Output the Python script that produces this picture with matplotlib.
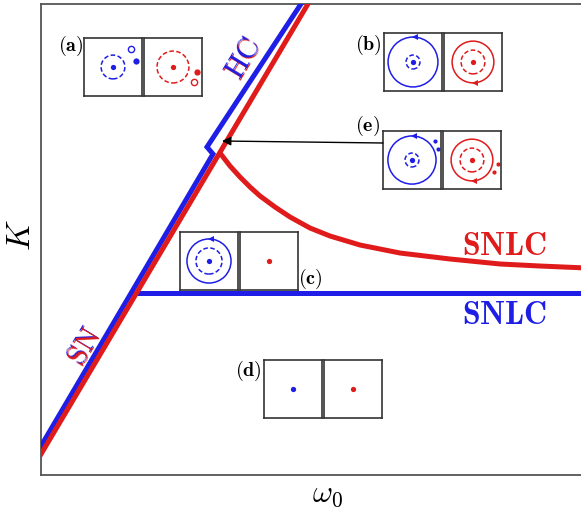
import matplotlib
matplotlib.use("Agg")
import matplotlib.pyplot as plt
from matplotlib.patches import Circle
from matplotlib.transforms import offset_copy

plt.rcParams["mathtext.fontset"] = "cm"
plt.rcParams["font.family"] = "serif"
plt.rcParams["font.serif"] = ["DejaVu Serif"]

BLUE = "#1e1ee6"
RED = "#e01b1b"

# ---- bifurcation branches (omega_0, K) ----
red_sn_hc_w = [-0.1, 5.0]
red_sn_hc_K = [0.25, 10.11]

blue_sn_hc_w = [-0.1, 3.185, 3.074, 4.9]
blue_sn_hc_K = [0.42, 6.815, 6.964, 10.15]

red_snlc_w = [3.315, 3.50, 3.685, 3.87, 4.056, 4.333, 4.611, 4.981, 5.352,
              5.907, 6.648, 7.574, 8.50, 9.241, 10.1]
red_snlc_K = [6.836, 6.561, 6.327, 6.115, 5.924, 5.690, 5.478, 5.244, 5.074,
              4.883, 4.713, 4.586, 4.480, 4.437, 4.395]

blue_snlc_w = [1.669, 10.2]
blue_snlc_K = [3.864, 3.864]

# ---- phase-portrait sketches ----
# lower-left corner of each pair of boxes (main-axes data coordinates)
inset_names = ["a", "b", "e", "c", "d"]
inset_x0 = [0.796, 6.352, 6.333, 2.574, 4.130]
inset_y0 = [8.047, 8.153, 6.072, 3.928, 1.210]
box_w, box_h, box_gap = 1.074, 1.231, 0.037

# per portrait: (solid cycle radius, dashed cycle radius, arrow side,
#                filled points, open points, point size)
portraits = {
    ("a", "blue"): (None, 0.41, None, [(0.79, 0.21)], [(0.62, 0.62)], 4.5),
    ("a", "red"): (None, 0.55, None, [(0.83, -0.17)], [(0.72, -0.52)], 4.5),
    ("b", "blue"): (0.86, 0.24, "top", [], [], 0),
    ("b", "red"): (0.72, 0.41, "bottom", [], [], 0),
    ("e", "blue"): (0.83, 0.24, "top", [(0.79, 0.66), (0.90, 0.38)], [], 3.0),
    ("e", "red"): (0.72, 0.41, "bottom", [(0.90, -0.14), (0.76, -0.41)], [], 3.0),
    ("c", "blue"): (0.76, 0.45, "top", [], [], 0),
    ("c", "red"): (None, None, None, [], [], 0),
    ("d", "blue"): (None, None, None, [], [], 0),
    ("d", "red"): (None, None, None, [], [], 0),
}

# label anchors (omega_0, K) and alignment
label_text = ["(a)", "(b)", "(e)", "(c)", "(d)"]
label_w = [0.778, 6.315, 6.278, 4.759, 4.093]
label_K = [9.108, 9.13, 7.41, 4.172, 2.208]
label_ha = ["right", "right", "right", "left", "right"]

# branch-name positions
snlc_w = 8.59
snlc_red_K = 4.86
snlc_blue_K = 3.38

# arrow from portrait (e) to the homoclinic point
arrow_from = (6.333, 7.049)
arrow_to = (3.352, 7.091)

fig = plt.figure(figsize=(5.81, 5.11), dpi=100)
ax = fig.add_axes([41 / 581, 36 / 511, 543 / 581, 471 / 511])
ax.set_xlim(0, 543 / 54)
ax.set_ylim(0, 10)
ax.set_xticks([])
ax.set_yticks([])
for s in ax.spines.values():
    s.set_color("#555555")
    s.set_linewidth(1.3)

lw = 3.6
ax.plot(blue_sn_hc_w, blue_sn_hc_K, color=BLUE, lw=lw, solid_joinstyle="miter",
        solid_capstyle="butt", zorder=3)
ax.plot(blue_snlc_w, blue_snlc_K, color=BLUE, lw=lw, solid_capstyle="butt", zorder=3)
ax.plot(red_sn_hc_w, red_sn_hc_K, color=RED, lw=lw, solid_capstyle="butt", zorder=4)
ax.plot(red_snlc_w, red_snlc_K, color=RED, lw=lw, solid_capstyle="butt", zorder=4)

# branch labels
ax.text(snlc_w, snlc_red_K, r"$\mathbf{SNLC}$", color=RED, fontsize=23, ha="center", va="center")
ax.text(snlc_w, snlc_blue_K, r"$\mathbf{SNLC}$", color=BLUE, fontsize=23, ha="center", va="center")

def two_tone(x, y, s, top, under, dx, dy):
    t_under = offset_copy(ax.transData, fig=fig, x=dx, y=dy, units="dots")
    ax.text(x, y, s, color=under, fontsize=21, rotation=59, rotation_mode="anchor",
            ha="center", va="center", transform=t_under, zorder=5)
    ax.text(x, y, s, color=top, fontsize=21, rotation=59, rotation_mode="anchor",
            ha="center", va="center", zorder=6)

two_tone(3.74, 8.85, r"$\mathrm{HC}$", BLUE, RED, 1.0, -1.0)
two_tone(0.815, 2.72, r"$\mathrm{SN}$", RED, BLUE, -1.0, 1.0)

ax.set_xlabel(r"$\omega_0$", fontsize=22)
ax.xaxis.set_label_coords(0.527, -0.006)
ax.set_ylabel(r"$K$", fontsize=24)
ax.yaxis.set_label_coords(-0.008, 0.51)

ax.annotate("", xy=arrow_to, xytext=arrow_from,
            arrowprops=dict(arrowstyle="-|>", color="black", lw=1.0,
                            mutation_scale=13, shrinkA=0, shrinkB=0), zorder=7)

for i, name in enumerate(label_text):
    ax.text(label_w[i], label_K[i], r"$\mathbf{%s}$" % name, fontsize=14.5,
            ha=label_ha[i], va="center", zorder=8)


def draw_portrait(iax, color, spec):
    solid_r, dashed_r, arrow_side, filled, opened, ms = spec
    iax.set_xlim(-1, 1)
    iax.set_ylim(-1, 1)
    iax.set_xticks([])
    iax.set_yticks([])
    for s in iax.spines.values():
        s.set_color("#333333")
        s.set_linewidth(1.2)
    if solid_r is not None:
        iax.add_patch(Circle((0, 0), solid_r, fill=False, ec=color, lw=1.1))
        if arrow_side == "top":
            iax.plot([0.06], [solid_r], marker="<", ms=5, color=color, mew=0)
        elif arrow_side == "bottom":
            iax.plot([0.06], [-solid_r], marker="<", ms=5, color=color, mew=0)
    if dashed_r is not None:
        iax.add_patch(Circle((0, 0), dashed_r, fill=False, ec=color, lw=1.1,
                             ls=(0, (3.0, 1.6))))
    iax.plot([0], [0], "o", ms=3.8, color=color, mew=0)
    for (px, py) in filled:
        iax.plot([px], [py], "o", ms=ms, color=color, mew=0)
    for (px, py) in opened:
        iax.plot([px], [py], "o", ms=ms, mfc="white", mec=color, mew=1.0)


for i, name in enumerate(inset_names):
    for j, (cname, color) in enumerate([("blue", BLUE), ("red", RED)]):
        x0 = inset_x0[i] + j * (box_w + box_gap)
        iax = ax.inset_axes([x0, inset_y0[i], box_w, box_h], transform=ax.transData,
                            zorder=6)
        draw_portrait(iax, color, portraits[(name, cname)])

fig.savefig("out.png", dpi=100)
